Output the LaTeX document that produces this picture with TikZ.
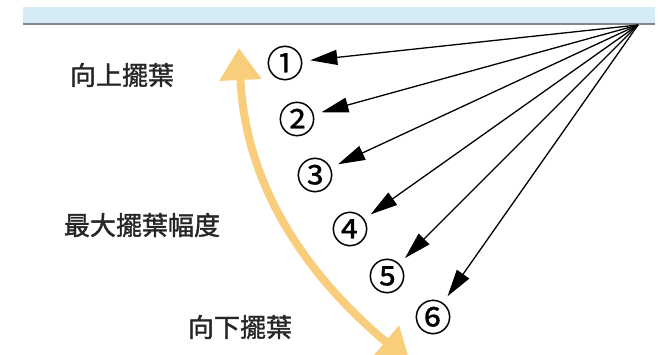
\documentclass[tikz,border=0pt]{standalone}
\usepackage{fontspec}
\setmainfont{Noto Sans CJK TC}
\newfontfamily\capfont{Noto Sans CJK TC}[RawFeature={embolden=1.5}]
\newfontfamily\numfont{Noto Sans CJK TC}[RawFeature={embolden=0.6}]
\usetikzlibrary{arrows.meta}

\definecolor{barblue}{RGB}{214,236,245}
\definecolor{bargrey}{RGB}{128,136,142}
\definecolor{swing}{RGB}{248,206,125}

\begin{document}
\begin{tikzpicture}[
  x=1pt, y=-1pt,
  caption/.style={font=\capfont\fontsize{26}{28}\selectfont, text=black!85, inner sep=0pt},
  stage/.style={circle, inner sep=0pt, minimum size=50pt, font=\numfont\fontsize{37}{40}\selectfont},
  ray/.style={-{Triangle[length=27pt, width=15pt]}, line width=1.3pt, draw=black},
  amp/.style={{Triangle[length=32pt, width=40pt]}-{Triangle[length=32pt, width=40pt]}, line width=8pt, draw=swing}
]
\clip (0,0) rectangle (662,355);
\fill[white] (0,0) rectangle (662,355);

\fill[barblue] (23,7) rectangle (655,24);
\draw[bargrey, line width=1.5pt] (23,24) -- (655,24);

\coordinate (src) at (638,25);

\node[stage] (p1) at (285,63) {①};
\node[stage] (p2) at (297,119) {②};
\node[stage] (p3) at (315,175) {③};
\node[stage] (p4) at (350,229) {④};
\node[stage] (p5) at (387,276) {⑤};
\node[stage] (p6) at (433,317) {⑥};

\draw[ray] (src) -- (p1);
\draw[ray] (src) -- (p2);
\draw[ray] (src) -- (p3);
\draw[ray] (src) -- (p4);
\draw[ray] (src) -- (p5);
\draw[ray] (src) -- (p6);

\coordinate (top) at (239,48);
\coordinate (bottom) at (410,362);
\draw[amp] (bottom) .. controls (300,270) and (245,180) .. (top);

\node[caption] (up) at (122,75) {向上擺葉};
\node[caption] (max) at (142,225) {最大擺葉幅度};
\node[caption] (down) at (240,327) {向下擺葉};

\end{tikzpicture}
\end{document}
